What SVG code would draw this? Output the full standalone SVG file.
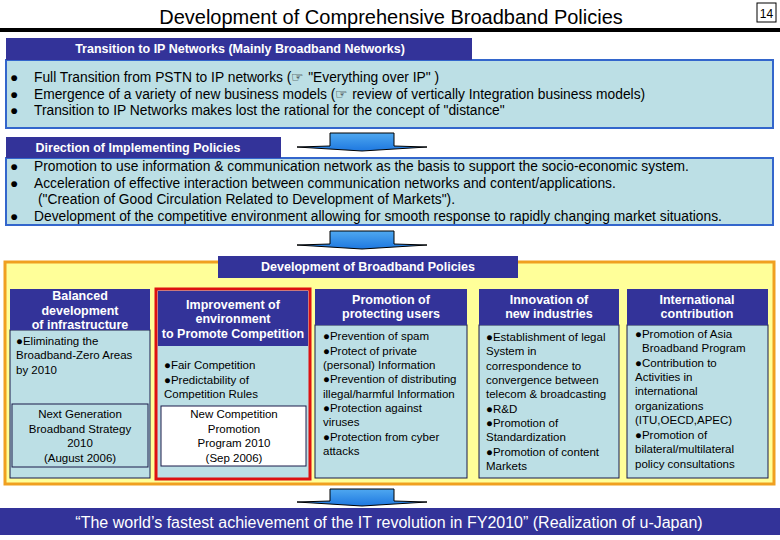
<svg xmlns="http://www.w3.org/2000/svg" width="780" height="540" viewBox="0 0 780 540">
<defs>
<linearGradient id="ag" x1="0" y1="0" x2="0" y2="1"><stop offset="0" stop-color="#4FA8F0"/><stop offset="1" stop-color="#1E78E0"/></linearGradient>
</defs>
<style>
text{font-family:"Liberation Sans",Arial,sans-serif;fill:#000}
.hd{fill:#333399}
.hw{fill:#fff;font-weight:bold;font-size:12.5px;text-anchor:middle}
.box{fill:#BCDFE5;stroke:#3366CC;stroke-width:2}
.cb{fill:#BCDFE5;stroke:#1a1a4a;stroke-width:1}
.b{font-size:13.8px}
.c{font-size:11.5px}
.m{text-anchor:middle}
.ar{fill:url(#ag);stroke:#000;stroke-width:1}
</style>
<rect width="780" height="540" fill="#fff"/>
<g id="title">
<text x="391" y="24" class="m" font-size="20">Development of Comprehensive Broadband Policies</text>
<rect x="757" y="3" width="19" height="19" fill="#fff" stroke="#000"/>
<text x="766.5" y="18" class="m" font-size="12">14</text>
<rect x="0" y="28" width="780" height="4" fill="#000"/>
</g>
<g id="sec1">
<rect x="6" y="60" width="767" height="68" class="box"/>
<rect x="6" y="38" width="466" height="22" class="hd"/>
<text x="240" y="53" class="hw">Transition to IP Networks (Mainly Broadband Networks)</text>
<text x="10" y="82" class="b">●</text><text x="34" y="82" class="b">Full Transition from PSTN to IP networks (☞  "Everything over IP" )</text>
<text x="10" y="99" class="b">●</text><text x="34" y="99" class="b">Emergence of a variety of new business models (☞ review of vertically Integration business models)</text>
<text x="10" y="115" class="b">●</text><text x="34" y="115" class="b">Transition to IP Networks makes lost the rational for the concept of "distance"</text>
</g>
<g id="sec2">
<rect x="6" y="158" width="767" height="67" class="box"/>
<rect x="6" y="137" width="275" height="21" class="hd"/>
<text x="138" y="152" class="hw">Direction of Implementing Policies</text>
<text x="10" y="171" class="b">●</text><text x="34" y="171" class="b">Promotion to use information &amp; communication network as the basis to support the socio-economic system.</text>
<text x="10" y="188" class="b">●</text><text x="34" y="188" class="b">Acceleration of effective interaction between communication networks and content/applications.</text>
<text x="38" y="204" class="b">("Creation of Good Circulation Related to Development of Markets").</text>
<text x="10" y="221" class="b">●</text><text x="34" y="221" class="b">Development of the competitive environment allowing for smooth response to rapidly changing market situations.</text>
</g>
<g id="connectors">
<polygon class="ar" points="330,133 394,133 394,146 427,147 362,151 297,147 330,146"/>
<polygon class="ar" points="330,231 394,231 394,244 427,245 362,249 297,245 330,244"/>
<polygon class="ar" points="330,489 394,489 394,501 427,502 362,506 297,502 330,501"/>
</g>
<g id="sec3">
<rect x="5" y="262" width="769" height="222" fill="#FFFF99" stroke="#F0A020" stroke-width="3"/>
<rect x="218" y="256" width="300" height="22" class="hd"/>
<text x="368" y="271" class="hw">Development of Broadband Policies</text>
</g>
<g id="col1">
<rect x="10" y="330" width="140" height="148" class="cb"/>
<rect x="10" y="289" width="140" height="41" class="hd"/>
<text class="hw" font-size="11.5"><tspan x="80" y="300">Balanced</tspan><tspan x="80" y="315">development</tspan><tspan x="80" y="329">of infrastructure</tspan></text>
<text class="c"><tspan x="16" y="345">●Eliminating the</tspan><tspan x="16" y="359">Broadband-Zero Areas</tspan><tspan x="16" y="374">by 2010</tspan></text>
<rect x="12" y="404" width="136" height="63" fill="none" stroke="#1a1a4a"/>
<text class="c m"><tspan x="80" y="418">Next Generation</tspan><tspan x="80" y="433">Broadband Strategy</tspan><tspan x="80" y="447">2010</tspan><tspan x="80" y="462">(August 2006)</tspan></text>
</g>
<g id="col2">
<rect x="156" y="289" width="154" height="190" fill="#BCDFE5" stroke="#DD1111" stroke-width="3"/>
<rect x="158" y="291" width="150" height="55" class="hd"/>
<text class="hw" font-size="11.5"><tspan x="233" y="309">Improvement of</tspan><tspan x="233" y="323">environment</tspan><tspan x="233" y="338">to Promote Competition</tspan></text>
<text class="c"><tspan x="164" y="369">●Fair Competition</tspan><tspan x="164" y="384">●Predictability of</tspan><tspan x="164" y="398">Competition Rules</tspan></text>
<rect x="161" y="406" width="145" height="60" fill="#fff" stroke="#1a1a4a"/>
<text class="c m"><tspan x="234" y="418">New Competition</tspan><tspan x="234" y="433">Promotion</tspan><tspan x="234" y="447">Program 2010</tspan><tspan x="234" y="462">(Sep 2006)</tspan></text>
</g>
<g id="col3">
<rect x="315" y="325" width="152" height="153" class="cb"/>
<rect x="315" y="289" width="152" height="36" class="hd"/>
<text class="hw" font-size="11.5"><tspan x="391" y="304">Promotion of</tspan><tspan x="391" y="318">protecting users</tspan></text>
<text class="c"><tspan x="323" y="340">●Prevention of spam</tspan><tspan x="323" y="355">●Protect of private</tspan><tspan x="323" y="369">(personal)  Information</tspan><tspan x="323" y="383">●Prevention of distributing</tspan><tspan x="323" y="398">illegal/harmful Information</tspan><tspan x="323" y="412">●Protection against</tspan><tspan x="323" y="426">viruses</tspan><tspan x="323" y="441">●Protection from cyber</tspan><tspan x="323" y="455">attacks</tspan></text>
</g>
<g id="col4">
<rect x="479" y="325" width="140" height="153" class="cb"/>
<rect x="479" y="289" width="140" height="36" class="hd"/>
<text class="hw" font-size="11.5"><tspan x="549" y="304">Innovation of</tspan><tspan x="549" y="318">new industries</tspan></text>
<text class="c"><tspan x="486" y="341">●Establishment of legal</tspan><tspan x="486" y="355">System in</tspan><tspan x="486" y="370">correspondence to</tspan><tspan x="486" y="384">convergence between</tspan><tspan x="486" y="398">telecom &amp; broadcasting</tspan><tspan x="486" y="413">●R&amp;D</tspan><tspan x="486" y="427">●Promotion of</tspan><tspan x="486" y="441">Standardization</tspan><tspan x="486" y="456">●Promotion of content</tspan><tspan x="486" y="470">Markets</tspan></text>
</g>
<g id="col5">
<rect x="627" y="325" width="141" height="153" class="cb"/>
<rect x="627" y="289" width="141" height="36" class="hd"/>
<text class="hw" font-size="11.5"><tspan x="697" y="304">International</tspan><tspan x="697" y="318">contribution</tspan></text>
<text class="c"><tspan x="635" y="338">●Promotion of Asia</tspan><tspan x="642" y="352">Broadband Program</tspan><tspan x="635" y="367">●Contribution to</tspan><tspan x="635" y="381">Activities in</tspan><tspan x="635" y="395">international</tspan><tspan x="635" y="410">organizations</tspan><tspan x="635" y="424">(ITU,OECD,APEC)</tspan><tspan x="635" y="439">●Promotion of</tspan><tspan x="635" y="453">bilateral/multilateral</tspan><tspan x="635" y="468">policy consultations</tspan></text>
</g>
<g id="goal">
<rect x="0" y="508" width="780" height="27" class="hd"/>
<text x="389" y="528" class="m" font-size="16" style="fill:#fff">“The world’s fastest achievement of the IT revolution in FY2010” (Realization of u-Japan)</text>
</g>
</svg>
